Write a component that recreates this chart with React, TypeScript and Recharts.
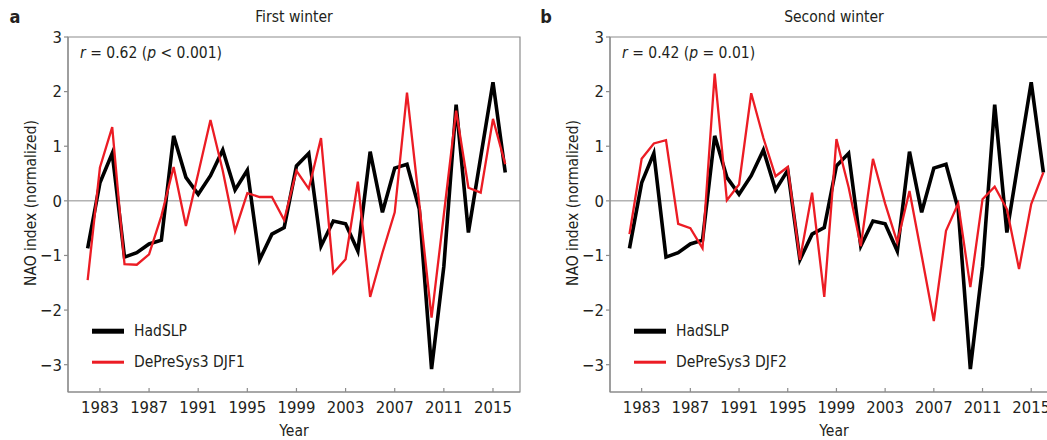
import { LineChart, Line, XAxis, YAxis, ReferenceLine, ReferenceArea } from "recharts";

// winters (DJF), labelled by year
const years = [
  1982, 1983, 1984, 1985, 1986, 1987, 1988, 1989, 1990, 1991,
  1992, 1993, 1994, 1995, 1996, 1997, 1998, 1999, 2000, 2001,
  2002, 2003, 2004, 2005, 2006, 2007, 2008, 2009, 2010, 2011,
  2012, 2013, 2014, 2015, 2016,
];

// observed NAO index (normalized)
const hadSLP = [
  -0.87, 0.33, 0.87, -1.03, -0.95, -0.79, -0.72, 1.19, 0.43, 0.12,
  0.46, 0.93, 0.2, 0.56, -1.08, -0.61, -0.49, 0.64, 0.87, -0.83,
  -0.37, -0.42, -0.92, 0.9, -0.21, 0.6, 0.67, -0.15, -3.08, -1.2,
  1.76, -0.58, 0.8, 2.17, 0.52,
];

// hindcast, first winter
const depresysDJF1 = [
  -1.45, 0.61, 1.35, -1.16, -1.17, -0.98, -0.28, 0.62, -0.46, 0.5,
  1.48, 0.55, -0.55, 0.14, 0.07, 0.07, -0.35, 0.55, 0.22, 1.15,
  -1.32, -1.07, 0.35, -1.76, -0.95, -0.21, 1.98, -0.05, -2.14, -0.25,
  1.65, 0.24, 0.15, 1.5, 0.67,
];

// hindcast, second winter
const depresysDJF2 = [
  -0.61, 0.77, 1.05, 1.11, -0.42, -0.5, -0.87, 2.33, 0.01, 0.3,
  1.97, 1.15, 0.45, 0.62, -1.08, 0.15, -1.76, 1.13, 0.25, -0.83,
  0.77, -0.05, -0.76, 0.18, -1.0, -2.2, -0.55, -0.05, -1.58, 0.03,
  0.26, -0.15, -1.25, -0.06, 0.52,
];

const yearTicks = [1983, 1987, 1991, 1995, 1999, 2003, 2007, 2011, 2015];
const naoTicks = [-3, -2, -1, 0, 1, 2, 3];

const FONT = "'DejaVu Sans Condensed', 'Liberation Sans Narrow', Roboto, sans-serif";
const INK = "#231f20";
const GREY = "#8c8c8c";
const RED = "#ec1c24";
const X_DOMAIN: [number, number] = [1980.4, 2017.2];
const Y_DOMAIN: [number, number] = [-3.5, 3];

const fmtNum = (v: number) => (v < 0 ? `\u2212${Math.abs(v)}` : `${v}`);

interface PanelProps {
  left: number;
  width: number;
  letter: string;
  letterX: number;
  title: string;
  r: string;
  p: string;
  modelName: string;
  model: number[];
}

function Panel({ left, width, letter, letterX, title, r, p, modelName, model }: PanelProps) {
  const data = years.map((y, i) => ({ year: y, obs: hadSLP[i], model: model[i] }));
  const plotMid = 60 + (width - 62) / 2;
  const series = [
    { name: "HadSLP", color: "#000", legendWidth: 5 },
    { name: modelName, color: RED, legendWidth: 3 },
  ];
  const text = {
    position: "absolute" as const,
    color: INK,
    fontFamily: FONT,
    lineHeight: 1.2,
    whiteSpace: "nowrap" as const,
  };

  return (
    <div style={{ position: "absolute", left, top: 8, width, height: 432 }}>
      <LineChart width={width} height={420} data={data} margin={{ top: 29, right: 2, left: 0, bottom: 6 }}>
        <ReferenceArea
          x1={X_DOMAIN[0]}
          x2={X_DOMAIN[1]}
          y1={Y_DOMAIN[0]}
          y2={Y_DOMAIN[1]}
          fill="none"
          fillOpacity={0}
          stroke={GREY}
          strokeWidth={1.2}
        />
        <XAxis
          dataKey="year"
          type="number"
          domain={X_DOMAIN}
          ticks={yearTicks}
          allowDataOverflow
          height={30}
          stroke={GREY}
          strokeWidth={1.2}
          tickSize={-4}
          tickMargin={13}
          tick={{ fill: INK, fontSize: 16.5, fontFamily: FONT }}
        />
        <YAxis
          type="number"
          domain={Y_DOMAIN}
          ticks={naoTicks}
          allowDataOverflow
          width={60}
          stroke={GREY}
          strokeWidth={1.2}
          tickSize={4}
          tickMargin={2}
          tickFormatter={fmtNum}
          tick={{ fill: INK, fontSize: 16.5, fontFamily: FONT }}
        />
        <ReferenceLine y={0} stroke={GREY} strokeWidth={1} />
        <Line
          type="linear"
          dataKey="obs"
          name="HadSLP"
          stroke="#000"
          strokeWidth={3.6}
          dot={false}
          isAnimationActive={false}
        />
        <Line
          type="linear"
          dataKey="model"
          name={modelName}
          stroke={RED}
          strokeWidth={2.3}
          dot={false}
          isAnimationActive={false}
        />
      </LineChart>

      <div style={{ ...text, left: letterX, top: 9, transform: "translate(-50%,-50%)", fontWeight: 700, fontSize: 18 }}>
        {letter}
      </div>
      <div style={{ ...text, left: plotMid, top: 9, transform: "translate(-50%,-50%)", fontSize: 15.5 }}>{title}</div>
      <div style={{ ...text, left: 72, top: 45, transform: "translateY(-50%)", fontSize: 15.5 }}>
        <i>r</i> = {r} (<i>p</i> {p})
      </div>
      <div
        style={{
          ...text,
          left: 23,
          top: 195,
          transform: "translate(-50%,-50%) rotate(-90deg)",
          fontSize: 15.5,
        }}
      >
        NAO index (normalized)
      </div>
      <div style={{ ...text, left: plotMid, top: 423, transform: "translate(-50%,-50%)", fontSize: 15.5 }}>Year</div>

      {series.map((s, i) => (
        <div
          key={s.name}
          style={{
            ...text,
            left: 84,
            top: 323 + i * 31,
            transform: "translateY(-50%)",
            display: "flex",
            alignItems: "center",
            fontSize: 15.5,
          }}
        >
          <span style={{ display: "inline-block", width: 32, height: s.legendWidth, background: s.color, marginRight: 10 }} />
          <span>{s.name}</span>
        </div>
      ))}
    </div>
  );
}

export default function App() {
  return (
    <div style={{ position: "fixed", left: 0, top: 0, width: 1047, height: 440, overflow: "hidden", background: "#fff" }}>
      <Panel
        left={8}
        width={514}
        letter="a"
        letterX={7}
        title="First winter"
        r="0.62"
        p="< 0.001"
        modelName="DePreSys3 DJF1"
        model={depresysDJF1}
      />
      <Panel
        left={550}
        width={510}
        letter="b"
        letterX={-4}
        title="Second winter"
        r="0.42"
        p="= 0.01"
        modelName="DePreSys3 DJF2"
        model={depresysDJF2}
      />
    </div>
  );
}
